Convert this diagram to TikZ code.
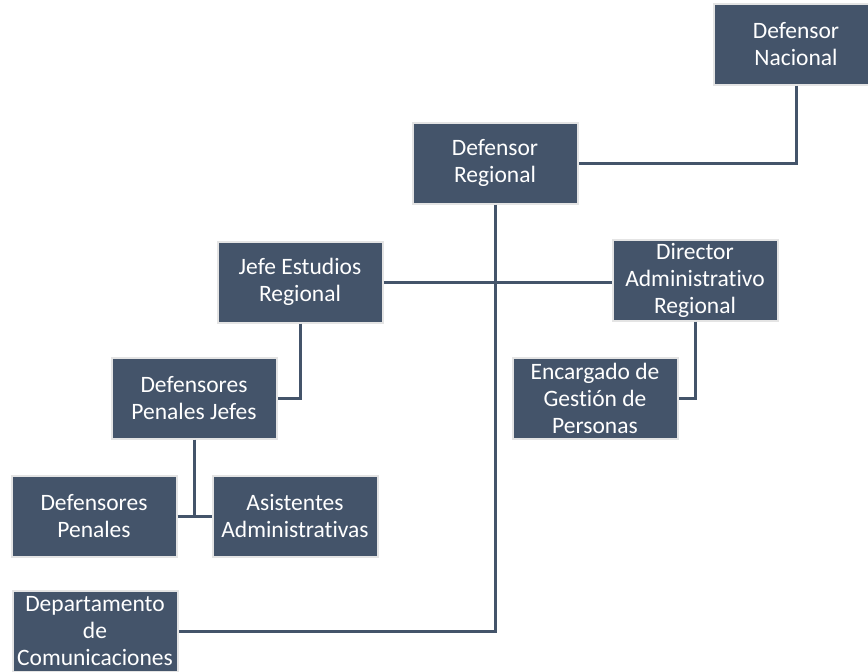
\documentclass[tikz,border=0pt]{standalone}
\usepackage{fontspec}
\setmainfont{Carlito}[Ligatures={NoCommon}]
\usetikzlibrary{calc}
\definecolor{pizarra}{HTML}{44546A}
\definecolor{borde}{HTML}{E4E4E4}
\tikzset{
	cargo/.style={rectangle, fill=pizarra, draw=borde, line width=2pt, text=white,
		minimum width=165pt, minimum height=81pt, inner sep=0pt, align=center,
		font=\fontsize{23.5}{27}\selectfont},
	enlace/.style={draw=pizarra, line width=3pt}
}

\begin{document}
\begin{tikzpicture}[x=1pt, y=-1pt]
	% lienzo: 868 x 672
	\useasboundingbox (0,0) rectangle (868,672);
	
	% cargos
	\node[cargo] (nacional) at (796,44) {Defensor\\Nacional};
	\node[cargo] (regional) at (495,163) {Defensor\\Regional};
	\node[cargo] (jefe) at (300,282) {Jefe Estudios\\Regional};
	\node[cargo] (director) at (695,280) {Director\\Administrativo\\Regional};
	\node[cargo] (encargado) at (595,398) {Encargado de\\Gestión de\\Personas};
	\node[cargo] (penjefes) at (194,398) {Defensores\\Penales Jefes};
	\node[cargo] (penales) at (94,516) {Defensores\\Penales};
	\node[cargo] (asistentes) at (295,516) {Asistentes\\Administrativas};
	\node[cargo] (depto) at (95,631) {Departamento\\de\\Comunicaciones};
	
	% lineas de dependencia
	\draw[enlace] (nacional.south) |- (regional.east);
	\draw[enlace] (regional.south) |- (depto.east);
	\draw[enlace] (jefe.east) -- (jefe.east -| director.west);
	\draw[enlace] (director.south) |- (encargado.east);
	\draw[enlace] (jefe.south) |- (penjefes.east);
	\draw[enlace] (penales.east) -- (asistentes.west);
	\draw[enlace] (penjefes.south) -- (penjefes.south |- penales.east);
\end{tikzpicture}
\end{document}
